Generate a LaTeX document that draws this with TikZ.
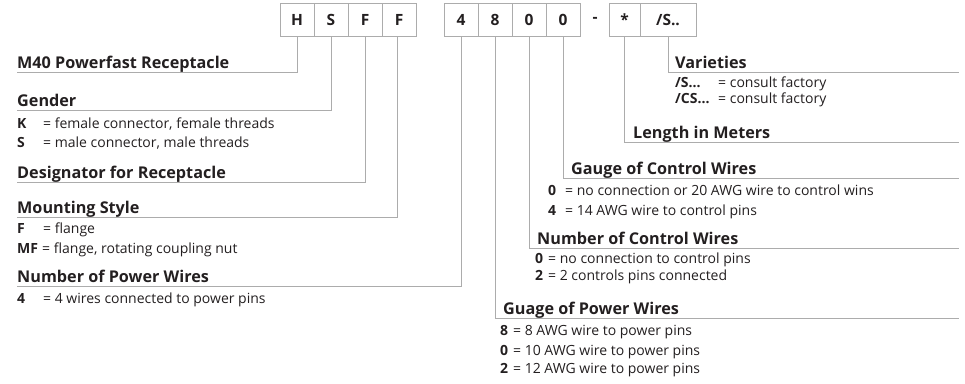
\documentclass[tikz,border=0pt]{standalone}
\usepackage{fontspec}
\setmainfont{Open Sans}
\usetikzlibrary{positioning}

\definecolor{linegray}{RGB}{172,172,172}
\definecolor{inkdark}{RGB}{35,31,32}

\tikzset{
  codebox/.style={draw=linegray,line width=0.9pt,minimum width=34pt,minimum height=33pt,
    inner sep=0pt,outer sep=0pt,text=inkdark,font=\fontsize{15.5}{18}\selectfont\bfseries},
  head/.style={anchor=south west,inner sep=0pt,text depth=3.5pt,text=inkdark,
    font=\fontsize{16.2}{19}\selectfont\bfseries},
  val/.style={anchor=base west,inner sep=0pt,text=inkdark,font=\fontsize{14}{16}\selectfont},
  wire/.style={draw=linegray,line width=0.9pt}
}
\newcommand{\code}[2]{\makebox[#1][l]{\bfseries #2}}

\begin{document}
\begin{tikzpicture}[x=1pt,y=-1pt]
  \useasboundingbox (0,0) rectangle (965,383);

  % part number boxes
  \node[codebox] (h) at (297,19.5) {H};
  \node[codebox] (s) [right=0pt of h] {S};
  \node[codebox] (f) [right=0pt of s] {F};
  \node[codebox] (ff) [right=0pt of f] {F};
  \node[codebox] (n4) [right=28pt of ff] {4};
  \node[codebox] (n8) [right=0pt of n4] {8};
  \node[codebox] (n0) [right=0pt of n8] {0};
  \node[codebox] (nn0) [right=0pt of n0] {0};
  \node[text=inkdark,font=\fontsize{15.5}{18}\selectfont\bfseries] (dash) at (595,19.5) {-};
  \node[codebox,minimum width=31pt] (star) [right=29pt of nn0] {*};
  \node[codebox,minimum width=56pt] (var) [right=0pt of star] {/S..};

  % left headings
  \node[head] (m40) at (17,72) {M40 Powerfast Receptacle};
  \node[head] (gen) at (17,110) {Gender};
  \node[val] (genk) at (17,128) {\code{26pt}{K}= female connector, female threads};
  \node[val] (gens) at (17,147) {\code{26pt}{S}= male connector, male threads};
  \node[head] (des) at (17,182.5) {Designator for Receptacle};
  \node[head] (mnt) at (17,217) {Mounting Style};
  \node[val] (mntf) at (17,233) {\code{26pt}{F}= flange};
  \node[val] (mntmf) at (17,253) {\code{25pt}{MF}= flange, rotating coupling nut};
  \node[head] (pwr) at (17,286) {Number of Power Wires};
  \node[val] (pwr4) at (17,303) {\code{26pt}{4}= 4 wires connected to power pins};

  % right headings
  \coordinate (varend) at (959,72.5);
  \coordinate (lenend) at (959,142.5);
  \coordinate (gcend) at (959,178);
  \coordinate (ncend) at (959,248.5);
  \coordinate (gpend) at (959,318);
  \node[head] (vty) at (675,72.5) {Varieties};
  \node[val] (vtys) at (675,87.5) {\code{43pt}{/S...}= consult factory};
  \node[val] (vtycs) at (675,103) {\code{43pt}{/CS...}= consult factory};
  \node[head] (len) at (633,142.5) {Length in Meters};
  \node[head] (gc) at (571,178) {Gauge of Control Wires};
  \node[val] (gc0) at (548,195) {\code{17pt}{0}= no connection or 20 AWG wire to control wins};
  \node[val] (gc4) at (548,215) {\code{17pt}{4}= 14 AWG wire to control pins};
  \node[head] (nc) at (537,248.5) {Number of Control Wires};
  \node[val] (nc0) at (535,263) {\code{13pt}{0}= no connection to control pins};
  \node[val] (nc2) at (535,280.5) {\code{13pt}{2}= 2 controls pins connected};
  \node[head] (gp) at (503,318) {Guage of Power Wires};
  \node[val] (gp8) at (500,335) {\code{13pt}{8}= 8 AWG wire to power pins};
  \node[val] (gp0) at (500,355) {\code{13pt}{0}= 10 AWG wire to power pins};
  \node[val] (gp2) at (500,373) {\code{13pt}{2}= 12 AWG wire to power pins};

  % leader lines
  \draw[wire] (h.south) |- (m40.south west);
  \draw[wire] (s.south) |- (gen.south west);
  \draw[wire] (f.south) |- (des.south west);
  \draw[wire] ([xshift=-2pt]ff.south) |- (mnt.south west);
  \draw[wire] (n4.south) |- (pwr.south west);
  \draw[wire] (var.south) |- (varend);
  \draw[wire] (star.south) |- (lenend);
  \draw[wire] (nn0.south) |- (gcend);
  \draw[wire] (n0.south) |- (ncend);
  \draw[wire] (n8.south) |- (gpend);
\end{tikzpicture}
\end{document}
